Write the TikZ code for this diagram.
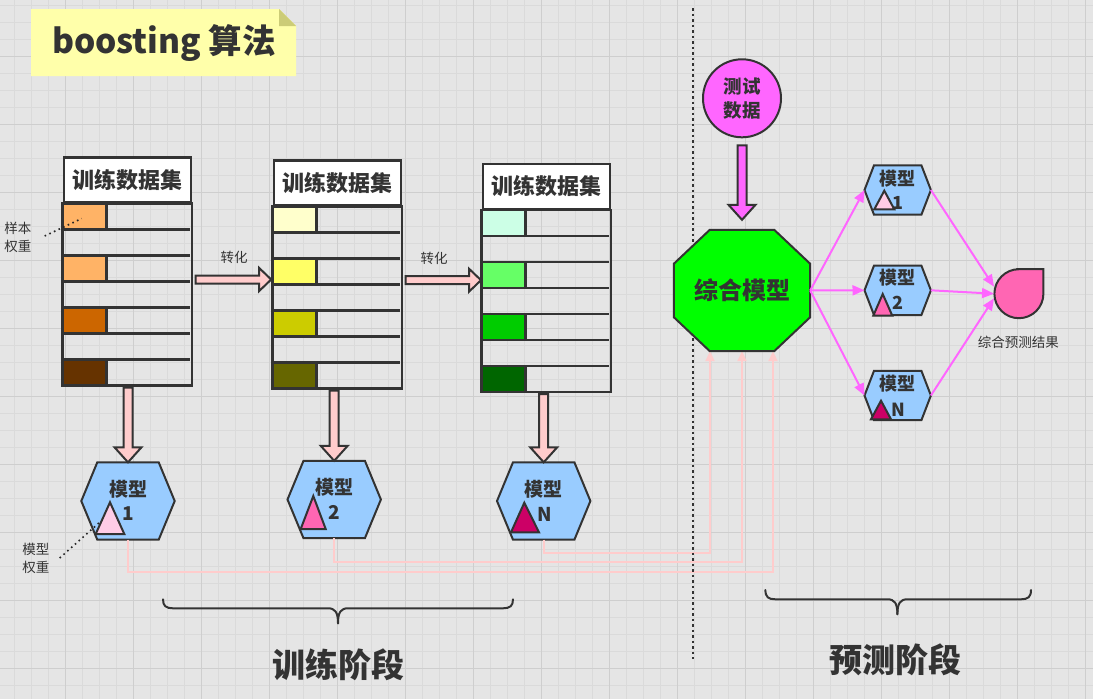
\documentclass[tikz,border=0pt]{standalone}
\usepackage{fontspec}
\setmainfont{Noto Sans CJK SC}
\usetikzlibrary{calc,arrows.meta}
\definecolor{bg}{HTML}{E5E5E5}
\definecolor{gminor}{HTML}{DADADA}
\definecolor{gmajor}{HTML}{CECECE}
\definecolor{lc}{HTML}{333333}
\definecolor{titlebg}{HTML}{FFFFAA}
\definecolor{fold}{HTML}{CCCC77}
\definecolor{hexblue}{HTML}{99CCFF}
\definecolor{octgreen}{HTML}{00FF00}
\definecolor{mag}{HTML}{FF66FF}
\definecolor{fbpink}{HTML}{FFCCCC}
\definecolor{resp}{HTML}{FF66B3}
\definecolor{triA}{HTML}{FFCCE6}
\definecolor{triB}{HTML}{FF66B3}
\definecolor{triC}{HTML}{CC0066}
\definecolor{oA}{HTML}{FFB366}
\definecolor{oB}{HTML}{CC6600}
\definecolor{oC}{HTML}{663300}
\definecolor{yA}{HTML}{FFFFCC}
\definecolor{yB}{HTML}{FFFF66}
\definecolor{yC}{HTML}{CCCC00}
\definecolor{yD}{HTML}{666600}
\definecolor{gA}{HTML}{CCFFE6}
\definecolor{gB}{HTML}{66FF66}
\definecolor{gC}{HTML}{00CC00}
\definecolor{gD}{HTML}{006600}
\newcommand\fsz[1]{\fontsize{#1pt}{#1pt}\selectfont}
\tikzset{
  tline/.style={draw=lc, line width=2.5pt},
  hdr/.style={draw=lc, line width=2.5pt, fill=white, minimum width=127pt, minimum height=45pt, inner sep=0pt, font=\bfseries\fsz{22}, text=lc},
  blk/.style={draw=lc, line width=2pt, line join=miter},
  shp/.style={draw=lc, line width=2pt},
  fb/.style={draw=fbpink, line width=2pt, -{Triangle[length=10pt,width=9pt]}},
  mg/.style={draw=mag, line width=2pt, -{Triangle[length=12pt,width=10pt]}},
  mtext/.style={font=\bfseries\fsz{19}, text=lc, inner sep=0pt},
  rtext/.style={font=\bfseries\fsz{18}, text=lc, inner sep=0pt},
  small/.style={font=\fontsize{13.5pt}{18pt}\selectfont, text=lc, inner sep=0pt, align=center},
  dotl/.style={draw=black!85, line width=1.6pt, dash pattern=on 1.6pt off 3.5pt},
  bigt/.style={font=\bfseries\fsz{33}, text=lc, inner sep=0pt},
  brace/.style={draw=lc, line width=2pt, line cap=round}
}
\newcommand\dtable[7]{%
  \node[hdr, anchor=north west] (#1) at (#2,#3) {训练数据集};
  \fill[#4] ($(#1.south west)+(0,0)$) rectangle ++(44,26);
  \fill[#5] ($(#1.south west)+(0,52)$) rectangle ++(44,26);
  \fill[#6] ($(#1.south west)+(0,104)$) rectangle ++(44,26);
  \fill[#7] ($(#1.south west)+(0,156)$) rectangle ++(44,26);
  \draw[tline] (#1.south west) rectangle ($(#1.south east)+(0,182)$);
  \foreach \r in {1,...,6} {\draw[tline] ($(#1.south west)+(0,26*\r)$) -- ++(127,0);}
  \foreach \r in {0,2,4,6} {\draw[tline] ($(#1.south west)+(44,26*\r)$) -- ++(0,26);}
  \coordinate (#1b) at ($(#1.south)+(0,184)$);
}
\newcommand\hexa[6]{%
  \node[inner sep=0pt, minimum width=#4pt, minimum height=#5pt] (#1) at (#2,#3) {};
  \draw[shp, fill=hexblue] (#1.west) -- ($(#1.north west)+(#6,0)$) -- ($(#1.north east)+(-#6,0)$) -- (#1.east) -- ($(#1.south east)+(-#6,0)$) -- ($(#1.south west)+(#6,0)$) -- cycle;
}
\newcommand\downblk[3]{%
  \draw[blk, fill=#3] let \p1=(#1), \p2=(#2) in
   (\x2-4.5pt,\y1) -- (\x2-4.5pt,\y2+15pt) -- (\x2-13.5pt,\y2+15pt) -- (\x2,\y2) -- (\x2+13.5pt,\y2+15pt) -- (\x2+4.5pt,\y2+15pt) -- (\x2+4.5pt,\y1) -- cycle;
}
\newcommand\rightblk[3]{%
  \draw[blk, fill=#3] let \p1=(#1), \p2=(#2) in
   (\x1,\y1+4pt) -- (\x2-12pt,\y1+4pt) -- (\x2-12pt,\y1+11.5pt) -- (\x2,\y1) -- (\x2-12pt,\y1-11.5pt) -- (\x2-12pt,\y1-4pt) -- (\x1,\y1-4pt) -- cycle;
}
\begin{document}
\begin{tikzpicture}[x=1pt,y=-1pt]
\useasboundingbox (0,0) rectangle (1093,699);
\fill[bg] (0,0) rectangle (1093,699);
\foreach \i in {0,...,64} {\draw[gminor, line width=1pt] ({14.3+17*\i},0) -- ({14.3+17*\i},699);}
\foreach \j in {0,...,41} {\draw[gminor, line width=1pt] (0,{5.3+17*\j}) -- (1093,{5.3+17*\j});}
\foreach \i in {0,...,15} {\draw[gmajor, line width=1pt] ({65.3+68*\i},0) -- ({65.3+68*\i},699);}
\foreach \j in {0,...,9} {\draw[gmajor, line width=1pt] (0,{56.3+68*\j}) -- (1093,{56.3+68*\j});}

% title
\fill[titlebg] (31,9) -- (279,9) -- (296,26) -- (296,76) -- (31,76) -- cycle;
\fill[fold] (279,9) -- (296,26) -- (279,26) -- cycle;
\node[font=\bfseries\fsz{33.5}, text=lc, inner sep=0pt] (title) at (164,43) {boosting 算法};

% models and octagon placeholders, feedback lines (under everything else)
\hexa{m1}{128}{501}{93}{77}{16}
\hexa{m2}{334.2}{499.5}{93}{77}{16}
\hexa{mN}{543.7}{501}{93}{77}{16}
\node[inner sep=0pt, minimum width=136pt, minimum height=121pt] (oct) at (742,290.5) {};
\draw[fb] (m1.south) -- ++(0,32) -| ($(oct.south)+(31,0)$);
\draw[fb] (m2.south) -- ++(0,24) -| (oct.south);
\draw[fb] (mN.south) -- ++(0,13) -| ($(oct.south)+(-32,0)$);

% tables
\dtable{t1}{62.7}{156}{oA}{oA}{oB}{oC}
\dtable{t2}{272.7}{159}{yA}{yB}{yC}{yD}
\dtable{t3}{481.7}{162.7}{gA}{gB}{gC}{gD}

% transform arrows
\rightblk{$(t1.south east)+(3.5,76)$}{$(t2.south west)+(-1.5,73)$}{fbpink}
\rightblk{$(t2.south east)+(3.3,73.7)$}{$(t3.south west)+(-0.7,70)$}{fbpink}
\node[small] (z1) at (234,257) {转化};
\node[small] (z2) at (434,258) {转化};

% down arrows to models
\downblk{t1b}{m1.north}{fbpink}
\downblk{t2b}{m2.north}{fbpink}
\downblk{t3b}{mN.north}{fbpink}

% model contents
\node[mtext] (m1t) at ($(m1)+(0,-12)$) {模型};
\node[mtext] (m1n) at ($(m1)+(0.5,13)$) {1};
\draw[shp, fill=triA] ($(m1)+(-32.3,33)$) -- ($(m1)+(-3.7,33)$) -- ($(m1)+(-18,1.3)$) -- cycle;
\node[mtext] (m2t) at ($(m2)+(0,-12)$) {模型};
\node[mtext] (m2n) at ($(m2)+(0,12.5)$) {2};
\draw[shp, fill=triB] ($(m2)+(-33.5,29.5)$) -- ($(m2)+(-8.5,29.5)$) -- ($(m2)+(-20.9,-3.5)$) -- cycle;
\node[mtext] (mNt) at ($(mN)+(0,-12)$) {模型};
\node[mtext] (mNn) at ($(mN)+(1.5,13)$) {N};
\draw[shp, fill=triC] ($(mN)+(-32.7,31.3)$) -- ($(mN)+(-4.7,31.3)$) -- ($(mN)+(-19.4,1.7)$) -- cycle;

% weight labels
\node[small, align=left] (sw) at (18,237) {样本\\权重};
\draw[dotl] ($(sw.east)+(13,-1)$) -- ($(t1.south west)+(19,15)$);
\node[small, align=left] (mw) at (36,558) {模型\\权重};
\draw[dotl] ($(mw.east)+(10,0)$) -- ($(m1)+(-28,21)$);

% separator
\draw[draw=lc, line width=2.5pt, dash pattern=on 2.5pt off 3pt] (693,8) -- (693,659);

% test data
\node[shp, circle, fill=mag, minimum size=78pt, inner sep=0pt, font=\bfseries\fontsize{18.5pt}{24pt}\selectfont, text=lc, align=center] (td) at (742,98.3) {测试\\数据};
\downblk{$(td.south)+(0,7)$}{$(oct.north)+(0,-10)$}{mag}

% octagon
\draw[shp, fill=octgreen] ($(oct.north west)+(36,0)$) -- ($(oct.north east)+(-36,0)$) -- ($(oct.north east)+(0,34)$) -- ($(oct.south east)+(0,-34)$) -- ($(oct.south east)+(-36,0)$) -- ($(oct.south west)+(36,0)$) -- ($(oct.south west)+(0,-34)$) -- ($(oct.north west)+(0,34)$) -- cycle;
\node[font=\bfseries\fsz{24}, text=lc, inner sep=0pt] (octt) at (oct) {综合模型};

% right models
\hexa{r1}{897.7}{190}{66}{49}{9.5}
\hexa{r2}{897.7}{290.3}{66}{49}{9.5}
\hexa{rN}{897.7}{395.5}{66}{49}{9.5}
\node[rtext] (r1t) at ($(r1)+(0,-11.7)$) {模型};
\node[rtext] (r1n) at ($(r1)+(0,12.7)$) {1};
\draw[shp, fill=triA] ($(r1)+(-23.4,19.3)$) -- ($(r1)+(-3.4,19.3)$) -- ($(r1)+(-13.4,0.7)$) -- cycle;
\node[rtext] (r2t) at ($(r2)+(0,-13)$) {模型};
\node[rtext] (r2n) at ($(r2)+(0,13)$) {2};
\draw[shp, fill=triB] ($(r2)+(-24.4,25.4)$) -- ($(r2)+(-5.4,25.4)$) -- ($(r2)+(-15,3.7)$) -- cycle;
\node[rtext] (rNt) at ($(rN)+(0,-12.2)$) {模型};
\node[rtext] (rNn) at ($(rN)+(0.3,14.5)$) {N};
\draw[shp, fill=triC] ($(rN)+(-26.7,23.8)$) -- ($(rN)+(-6.7,23.8)$) -- ($(rN)+(-16.7,5.2)$) -- cycle;

% result
\node[inner sep=0pt, minimum size=49pt] (res) at (1018.7,293.7) {};
\draw[shp, fill=resp] (res.north) -- (res.north east) -- (res.east) arc[start angle=0, end angle=-270, radius=24.5pt] -- cycle;
\node[small] (rest) at (1018.3,342.7) {综合预测结果};

% magenta connectors
\draw[mg] (oct.east) -- (r1.west);
\draw[mg] (oct.east) -- (r2.west);
\draw[mg] (oct.east) -- (rN.west);
\draw[mg] (r1.east) -- ($(res.west)+(0,-7)$);
\draw[mg] (r2.east) -- (res.west);
\draw[mg] (rN.east) -- ($(res.west)+(0,4.6)$);

% braces
\draw[brace] (163,599.3) .. controls (163,606) and (166,608.3) .. (173,608.3) -- (328,608.3) .. controls (335,608.3) and (338,612) .. (338,623.3);
\draw[brace] (338,623.3) .. controls (338,612) and (341,608.3) .. (348,608.3) -- (503,608.3) .. controls (510,608.3) and (513,606) .. (513,599.3);
\draw[brace] (765.4,590) .. controls (765.4,597) and (768.4,599.3) .. (775.4,599.3) -- (887.4,599.3) .. controls (894.4,599.3) and (897.4,603) .. (897.4,614.3);
\draw[brace] (897.4,614.3) .. controls (897.4,603) and (900.4,599.3) .. (907.4,599.3) -- (1021,599.3) .. controls (1028,599.3) and (1031,597) .. (1031,590);
\node[bigt] (train) at (338,665) {训练阶段};
\node[bigt] (pred) at (895,660) {预测阶段};
\end{tikzpicture}
\end{document}
